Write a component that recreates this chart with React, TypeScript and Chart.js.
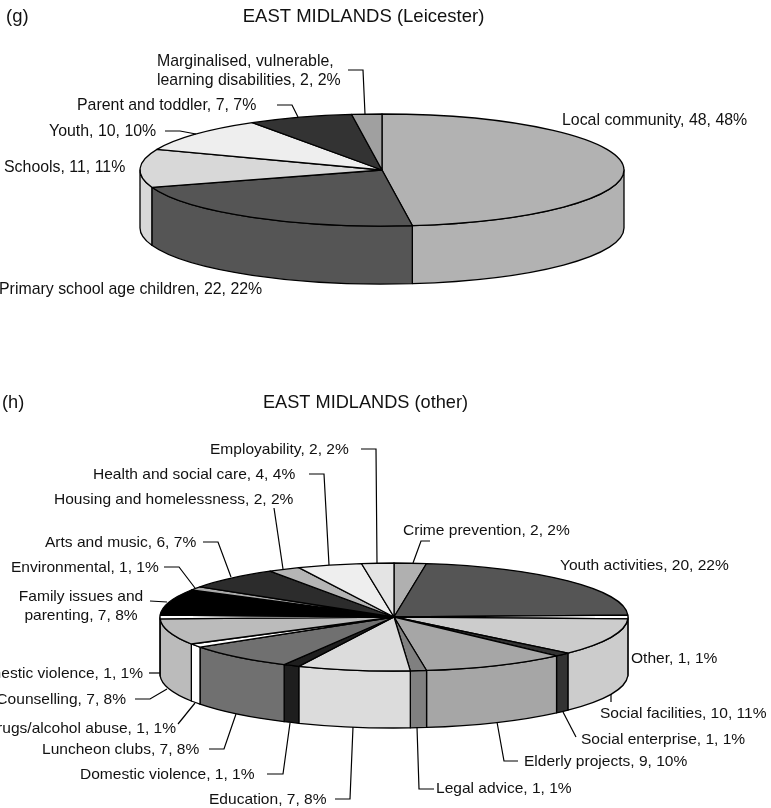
import React, { useEffect, useRef } from "react";
import { Chart, registerables } from "chart.js";

Chart.register(...registerables);

// Panel (g): Leicester projects
const leicesterCategories = [
  "Local community",
  "Primary school age children",
  "Schools",
  "Youth",
  "Parent and toddler",
  "Marginalised, vulnerable,\nlearning disabilities",
];
const leicesterValues = [48, 22, 11, 10, 7, 2];
const leicesterPercents = [48, 22, 11, 10, 7, 2];
const leicesterColours = ["#b2b2b2", "#555555", "#d8d8d8", "#eeeeee", "#333333", "#a0a0a0"];

// Panel (h): other East Midlands projects
const otherCategories = [
  "Crime prevention",
  "Youth activities",
  "Other",
  "Social facilities",
  "Social enterprise",
  "Elderly projects",
  "Legal advice",
  "Education",
  "Domestic violence",
  "Luncheon clubs",
  "Drugs/alcohol abuse",
  "Counselling",
  "Domestic violence",
  "Family issues and\nparenting",
  "Environmental",
  "Arts and music",
  "Housing and homelessness",
  "Health and social care",
  "Employability",
];
const otherValues = [2, 20, 1, 10, 1, 9, 1, 7, 1, 7, 1, 7, 1, 7, 1, 6, 2, 4, 2];
const otherPercents = [2, 22, 1, 11, 1, 10, 1, 8, 1, 8, 1, 8, 1, 8, 1, 7, 2, 4, 2];
const otherColours = [
  "#b0b0b0", "#555555", "#ffffff", "#cccccc", "#333333", "#a6a6a6", "#808080",
  "#dcdcdc", "#1e1e1e", "#707070", "#ffffff", "#bbbbbb", "#ffffff", "#000000",
  "#aaaaaa", "#2c2c2c", "#b5b5b5", "#eeeeee", "#e4e4e4",
];

type Callout = {
  x: number;
  y: number;
  align?: CanvasTextAlign;
  lineGap?: number;
  leader?: number[][];
};

type Panel = {
  top: number;
  height: number;
  tag: string;
  tagX: number;
  tagY: number;
  title: string;
  titleX: number;
  titleY: number;
  titleSize: number;
  labelSize: number;
  cx: number;
  cy: number;
  rx: number;
  ry: number;
  depth: number;
  categories: string[];
  values: number[];
  percents: number[];
  colours: string[];
  callouts: Callout[];
};

const FONT = '"Liberation Sans", Arial, sans-serif';
const INK = "#111111";

const leicesterCallouts: Callout[] = [
  { x: 562, y: 121 },
  { x: -1, y: 290 },
  { x: 4, y: 168 },
  { x: 49, y: 132, leader: [[165, 131], [180, 131], [196, 134]] },
  { x: 77, y: 106, leader: [[277, 105], [292, 105], [298, 117]] },
  { x: 157, y: 62, lineGap: 19, leader: [[348, 70], [363, 70], [365, 114]] },
];

const otherCallouts: Callout[] = [
  { x: 403, y: 531, leader: [[413, 563], [421, 541], [430, 541]] },
  { x: 560, y: 566 },
  { x: 631, y: 659 },
  { x: 600, y: 714, leader: [[611, 694], [611, 702]] },
  { x: 581, y: 740, leader: [[563, 712], [576, 737]] },
  { x: 524, y: 762, leader: [[497, 722], [504, 761], [518, 761]] },
  { x: 436, y: 789, leader: [[417, 727], [419, 789], [434, 789]] },
  { x: 209, y: 800, leader: [[335, 799], [350, 799], [353, 727]] },
  { x: 80, y: 775, leader: [[267, 774], [283, 774], [290, 723]] },
  { x: 42, y: 750, leader: [[209, 749], [224, 749], [236, 714]] },
  { x: 176, y: 729, align: "right", leader: [[178, 724], [195, 703]] },
  { x: 126, y: 700, align: "right", leader: [[135, 699], [150, 699], [167, 689]] },
  { x: 143, y: 674, align: "right", leader: [[149, 673], [160, 673]] },
  { x: 81, y: 597, align: "center", lineGap: 19, leader: [[150, 601], [167, 602]] },
  { x: 11, y: 568, leader: [[164, 567], [179, 567], [195, 588]] },
  { x: 45, y: 543, leader: [[203, 542], [218, 542], [231, 577]] },
  { x: 54, y: 500, leader: [[274, 508], [283, 569]] },
  { x: 93, y: 475, leader: [[309, 474], [324, 474], [329, 565]] },
  { x: 210, y: 450, leader: [[361, 449], [376, 449], [377, 564]] },
];

const panels: Panel[] = [
  {
    top: 0,
    height: 395,
    tag: "(g)",
    tagX: 6,
    tagY: 17,
    title: "EAST MIDLANDS (Leicester)",
    titleX: 363.5,
    titleY: 17,
    titleSize: 18.5,
    labelSize: 15.9,
    cx: 382,
    cy: 170,
    rx: 242,
    ry: 56,
    depth: 58,
    categories: leicesterCategories,
    values: leicesterValues,
    percents: leicesterPercents,
    colours: leicesterColours,
    callouts: leicesterCallouts,
  },
  {
    top: 395,
    height: 413,
    tag: "(h)",
    tagX: 2,
    tagY: 403,
    title: "EAST MIDLANDS (other)",
    titleX: 365.5,
    titleY: 403,
    titleSize: 18.2,
    labelSize: 15.55,
    cx: 394,
    cy: 617,
    rx: 234,
    ry: 54,
    depth: 57,
    categories: otherCategories,
    values: otherValues,
    percents: otherPercents,
    colours: otherColours,
    callouts: otherCallouts,
  },
];

// Renders the pie's arc elements as a tilted disc with a front wall, then the callouts.
function tiltedPiePlugin(panel: Panel) {
  return {
    id: "tiltedPie",
    beforeDatasetsDraw(chart: any) {
      const ctx: CanvasRenderingContext2D = chart.ctx;
      const arcs = chart.getDatasetMeta(0).data;
      const cy = panel.cy - panel.top;
      const { cx, rx, ry, depth } = panel;
      ctx.save();
      ctx.lineWidth = 1.3;
      ctx.lineJoin = "round";
      ctx.strokeStyle = "#000000";

      arcs.forEach((arc: any, i: number) => {
        const lo = Math.max(arc.startAngle, 0);
        const hi = Math.min(arc.endAngle, Math.PI);
        if (lo >= hi) return;
        ctx.beginPath();
        ctx.ellipse(cx, cy, rx, ry, 0, lo, hi);
        ctx.ellipse(cx, cy + depth, rx, ry, 0, hi, lo, true);
        ctx.closePath();
        ctx.fillStyle = panel.colours[i];
        ctx.fill();
        ctx.stroke();
      });

      arcs.forEach((arc: any, i: number) => {
        ctx.beginPath();
        ctx.moveTo(cx, cy);
        ctx.ellipse(cx, cy, rx, ry, 0, arc.startAngle, arc.endAngle);
        ctx.closePath();
        ctx.fillStyle = panel.colours[i];
        ctx.fill();
        ctx.stroke();
      });
      ctx.restore();
      return false;
    },
    afterDraw(chart: any) {
      const ctx: CanvasRenderingContext2D = chart.ctx;
      const off = panel.top;
      ctx.save();
      ctx.fillStyle = INK;
      ctx.textBaseline = "middle";

      ctx.font = `${panel.titleSize}px ${FONT}`;
      ctx.textAlign = "left";
      ctx.fillText(panel.tag, panel.tagX, panel.tagY - off);
      ctx.textAlign = "center";
      ctx.fillText(panel.title, panel.titleX, panel.titleY - off);

      ctx.font = `${panel.labelSize}px ${FONT}`;
      ctx.strokeStyle = "#000000";
      ctx.lineWidth = 1.2;
      panel.callouts.forEach((c, i) => {
        const text = `${panel.categories[i]}, ${panel.values[i]}, ${panel.percents[i]}%`;
        ctx.textAlign = c.align ?? "left";
        text.split("\n").forEach((line, n) => {
          ctx.fillText(line, c.x, c.y + n * (c.lineGap ?? 0) - off);
        });
        if (c.leader) {
          ctx.beginPath();
          c.leader.forEach(([x, y], n) => {
            if (n === 0) ctx.moveTo(x, y - off);
            else ctx.lineTo(x, y - off);
          });
          ctx.stroke();
        }
      });
      ctx.restore();
    },
  };
}

function PiePanel({ panel }: { panel: Panel }) {
  const ref = useRef<HTMLCanvasElement>(null);
  useEffect(() => {
    const chart = new Chart(ref.current!, {
      type: "pie",
      data: {
        labels: panel.categories,
        datasets: [{ data: panel.values, backgroundColor: panel.colours }],
      },
      options: {
        responsive: false,
        animation: false,
        devicePixelRatio: 1,
        plugins: { legend: { display: false }, tooltip: { enabled: false }, title: { display: false } },
      },
      plugins: [tiltedPiePlugin(panel)],
    } as any);
    return () => chart.destroy();
  }, [panel]);
  return (
    <canvas
      ref={ref}
      width={771}
      height={panel.height}
      style={{ position: "absolute", left: 0, top: panel.top, width: 771, height: panel.height }}
    />
  );
}

export default function App() {
  return (
    <div style={{ position: "fixed", left: 0, top: 0, width: 771, height: 808, background: "#ffffff", overflow: "hidden" }}>
      {panels.map((p) => (
        <PiePanel key={p.tag} panel={p} />
      ))}
    </div>
  );
}
